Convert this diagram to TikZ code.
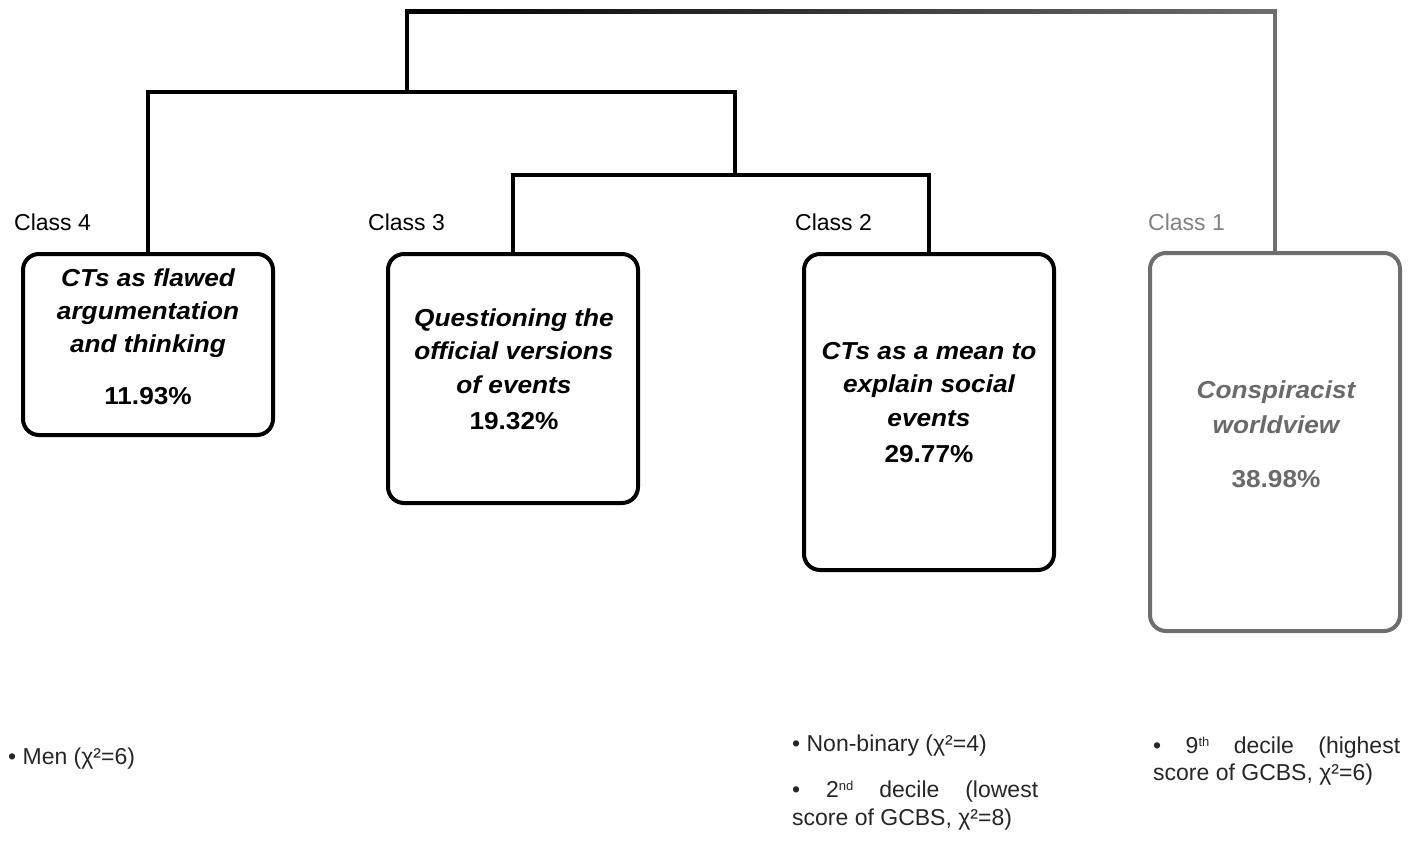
\documentclass[tikz,border=0pt]{standalone}
\usepackage{fontspec}
\setmainfont{Liberation Sans}
\newfontfamily\boxfont[FakeStretch=1.07]{Liberation Sans}
\usetikzlibrary{calc}
\definecolor{cgray}{HTML}{6E6E6E}
\definecolor{cgraytext}{HTML}{6A6A6A}
\definecolor{clabel}{HTML}{808080}
\definecolor{cnote}{HTML}{262626}
\newcommand{\smallsup}[1]{\raisebox{0.55ex}{\fontsize{13}{13}\selectfont #1}}
\begin{document}
\begin{tikzpicture}[x=1pt,y=-1pt,
  box/.style={draw=black, line width=4pt, rounded corners=16pt, inner sep=0pt, minimum width=250pt},
  graybox/.style={box, draw=cgray},
  conn/.style={line width=4pt, line cap=rect, line join=miter},
  ttl/.style={font=\boxfont\fontsize{24.5}{33}\selectfont\bfseries\itshape, anchor=base, inner sep=0pt},
  pct/.style={font=\boxfont\fontsize{24.5}{33}\selectfont\bfseries, anchor=base, inner sep=0pt},
  cls/.style={font=\fontsize{23}{28}\selectfont, anchor=base west, inner sep=0pt},
  note/.style={font=\fontsize{23}{28}\selectfont, anchor=base west, inner sep=0pt, text=cnote}]
\useasboundingbox (0,0) rectangle (1417,843);

% boxes
\node[box, minimum height=181pt] (b4) at (148,344.5) {};
\node[box, minimum height=249pt] (b3) at (513,378.5) {};
\node[box, minimum height=316pt] (b2) at (929,412) {};
\node[graybox, minimum height=378pt] (b1) at (1275,442) {};

% junction points of the tree
\coordinate (root) at (407,12);
\coordinate (rootlow) at (407,92);
\coordinate (mid) at (735,92);
\coordinate (low) at (735,175);
\coordinate (rightend) at (1275,12);

% connectors
\draw[conn] (b4.north) |- (mid) -- (low);
\draw[conn] (b3.north) |- (low) -| (b2.north);
\draw[conn] (rootlow) -- (root);
\shade[left color=black, right color=cgray]
  ($(root)+(-2,-2)$) rectangle ($(rightend)+(2,2)$);
\draw[conn, draw=cgray] (b1.north) -- (rightend);

% class labels
\node[cls] (l4) at (14,230) {Class 4};
\node[cls] (l3) at (368,230) {Class 3};
\node[cls] (l2) at (795,230) {Class 2};
\node[cls, text=clabel] (l1) at (1148,230) {Class 1};

% box 4 text
\node[ttl] (t4a) at (148,286) {CTs as flawed};
\node[ttl] (t4b) at (148,319) {argumentation};
\node[ttl] (t4c) at (148,352) {and thinking};
\node[pct] (t4d) at (148,404) {11.93\%};

% box 3 text
\node[ttl] (t3a) at (514,326) {Questioning the};
\node[ttl] (t3b) at (514,359) {official versions};
\node[ttl] (t3c) at (514,393) {of events};
\node[pct] (t3d) at (514,429) {19.32\%};

% box 2 text
\node[ttl] (t2a) at (929,359) {CTs as a mean to};
\node[ttl] (t2b) at (929,392) {explain social};
\node[ttl] (t2c) at (929,426) {events};
\node[pct] (t2d) at (929,462) {29.77\%};

% box 1 text
\node[ttl, text=cgraytext] (t1a) at (1276,398) {Conspiracist};
\node[ttl, text=cgraytext] (t1b) at (1276,433) {worldview};
\node[pct, text=cgraytext] (t1c) at (1276,487) {38.98\%};

% notes
\node[note] (n4) at (8,764) {• Men (χ²=6)};
\node[note] (n2a) at (792,751) {• Non-binary (χ²=4)};
\node[note] (n2b) at (792,797) {\hbox to 246pt{•\hfill 2\smallsup{nd}\hfill decile\hfill (lowest}};
\node[note] (n2c) at (792,825) {score of GCBS, χ²=8)};
\node[note] (n1a) at (1153,753) {\hbox to 247pt{•\hfill 9\smallsup{th}\hfill decile\hfill (highest}};
\node[note] (n1b) at (1153,780) {score of GCBS, χ²=6)};
\end{tikzpicture}
\end{document}
